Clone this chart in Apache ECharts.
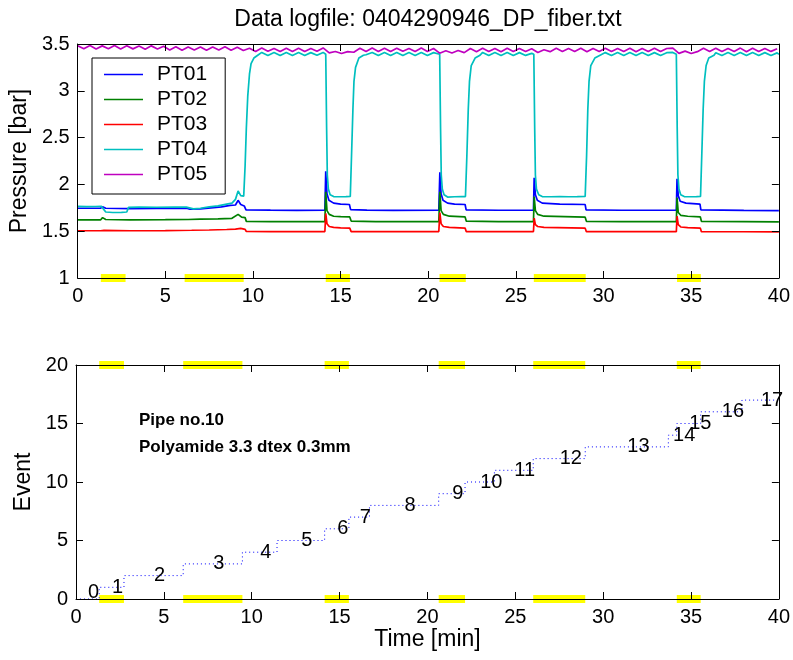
<!DOCTYPE html>
<html>
<head>
<meta charset="utf-8">
<title>Data logfile: 0404290946_DP_fiber.txt</title>
<script src="https://cdn.jsdelivr.net/npm/echarts@6/dist/echarts.min.js"></script>
<style>
  html, body { margin: 0; padding: 0; background: #ffffff; }
  #chart { width: 793px; height: 660px; }
</style>
</head>
<body>
<div id="chart"></div>
<script>
// ---- Axis ticks ----
const timeTicks = [0, 5, 10, 15, 20, 25, 30, 35, 40];
const pressureTicks = [1, 1.5, 2, 2.5, 3, 3.5];
const eventTicks = [0, 5, 10, 15, 20];

// ---- Pressure transmitters, [time (min), pressure (bar)] ----
const seriesNames = ['PT01', 'PT02', 'PT03', 'PT04', 'PT05'];

const pt01 = [
  [0, 1.745], [1.3, 1.745], [1.42, 1.76], [1.6, 1.745], [3, 1.742], [4.5, 1.744], [6.2, 1.745],
  [6.4, 1.735], [7.0, 1.738], [7.6, 1.75], [8.2, 1.76], [8.7, 1.775], [9.0, 1.78], [9.15, 1.83],
  [9.3, 1.785], [9.5, 1.77], [9.6, 1.728], [11, 1.725], [12.5, 1.723], [14.1, 1.725],
  [14.15, 2.14], [14.22, 1.9], [14.33, 1.83], [14.6, 1.80], [15.0, 1.79], [15.5, 1.785],
  [15.57, 1.73], [16.5, 1.725], [18, 1.723], [20.6, 1.725],
  [20.66, 2.13], [20.73, 1.9], [20.84, 1.83], [21.1, 1.80], [21.5, 1.79], [22.1, 1.785],
  [22.16, 1.728], [24, 1.724], [26.0, 1.726],
  [26.04, 2.07], [26.11, 1.89], [26.22, 1.83], [26.5, 1.80], [27.5, 1.79], [28.95, 1.785],
  [29.0, 1.728], [31, 1.724], [34.15, 1.725],
  [34.19, 2.06], [34.26, 1.88], [34.37, 1.82], [34.7, 1.80], [35.5, 1.79],
  [35.55, 1.728], [38, 1.722], [40, 1.72]
];

const pt02 = [
  [0, 1.62], [1.3, 1.62], [1.42, 1.645], [1.6, 1.625], [3, 1.622], [5, 1.623], [6.3, 1.625],
  [7.0, 1.628], [8.0, 1.632], [8.8, 1.638], [9.15, 1.68], [9.35, 1.65], [9.55, 1.645],
  [9.62, 1.605], [11, 1.603], [14.1, 1.603],
  [14.15, 1.92], [14.22, 1.72], [14.35, 1.68], [14.6, 1.66], [15.0, 1.655], [15.52, 1.652],
  [15.6, 1.608], [17, 1.603], [20.6, 1.603],
  [20.66, 1.92], [20.73, 1.72], [20.86, 1.68], [21.2, 1.66], [22.1, 1.652],
  [22.17, 1.607], [24, 1.603], [26.0, 1.603],
  [26.04, 1.87], [26.11, 1.72], [26.24, 1.68], [26.6, 1.66], [28.95, 1.65],
  [29.02, 1.606], [31, 1.603], [34.15, 1.603],
  [34.19, 1.86], [34.26, 1.70], [34.4, 1.67], [34.8, 1.66], [35.52, 1.652],
  [35.58, 1.606], [38, 1.603], [40, 1.60]
];

const pt03 = [
  [0, 1.505], [1.3, 1.505], [1.5, 1.508], [3, 1.505], [5, 1.507], [6.5, 1.51], [7.5, 1.513],
  [8.5, 1.518], [9.0, 1.522], [9.3, 1.53], [9.55, 1.52], [9.62, 1.497], [11, 1.496], [14.1, 1.496],
  [14.15, 1.69], [14.22, 1.58], [14.35, 1.55], [14.6, 1.54], [15.0, 1.536], [15.52, 1.533],
  [15.6, 1.495], [17, 1.496], [20.6, 1.496],
  [20.66, 1.70], [20.73, 1.58], [20.86, 1.55], [21.2, 1.54], [22.1, 1.533],
  [22.17, 1.495], [24, 1.496], [26.0, 1.496],
  [26.04, 1.64], [26.11, 1.57], [26.24, 1.55], [26.6, 1.54], [28.95, 1.532],
  [29.02, 1.495], [31, 1.495], [34.15, 1.495],
  [34.19, 1.66], [34.26, 1.57], [34.4, 1.545], [34.8, 1.538], [35.52, 1.533],
  [35.58, 1.494], [38, 1.494], [40, 1.493]
];

const pt04 = [
  [0, 1.765], [0.5, 1.762], [1.0, 1.764], [1.35, 1.765], [1.45, 1.75], [1.6, 1.705], [2.0, 1.70],
  [2.5, 1.702], [2.8, 1.705], [2.9, 1.755], [3.5, 1.757], [4.5, 1.756], [5.5, 1.758], [6.2, 1.757],
  [6.3, 1.74], [6.6, 1.738], [7.0, 1.745], [7.5, 1.76], [8.0, 1.77], [8.5, 1.79], [8.8, 1.80],
  [9.0, 1.84], [9.15, 1.93], [9.3, 1.88], [9.47, 1.875],
  [9.55, 2.2], [9.62, 2.6], [9.7, 2.94], [9.8, 3.18], [9.89, 3.29], [10.05, 3.35], [10.27, 3.38],
  [10.5, 3.41], [10.85, 3.378], [11.2, 3.41], [11.55, 3.376], [11.9, 3.41], [12.25, 3.378],
  [12.6, 3.409], [12.95, 3.377], [13.3, 3.408], [13.65, 3.379], [14.0, 3.41], [14.15, 3.39],
  [14.2, 2.6], [14.24, 2.1], [14.3, 1.95], [14.4, 1.89], [14.6, 1.87], [15.0, 1.868],
  [15.3, 1.87], [15.55, 1.872],
  [15.62, 2.3], [15.7, 2.8], [15.76, 3.1], [15.85, 3.25], [16.04, 3.35], [16.3, 3.38],
  [16.45, 3.385], [16.8, 3.41], [17.15, 3.377], [17.5, 3.409], [17.85, 3.378], [18.2, 3.41],
  [18.55, 3.376], [18.9, 3.409], [19.25, 3.378], [19.6, 3.41], [19.95, 3.377], [20.3, 3.408],
  [20.65, 3.39],
  [20.7, 2.6], [20.74, 2.1], [20.8, 1.95], [20.9, 1.89], [21.1, 1.865], [21.5, 1.868],
  [21.9, 1.87], [22.12, 1.87],
  [22.2, 2.3], [22.28, 2.8], [22.35, 3.1], [22.45, 3.27], [22.67, 3.35], [22.95, 3.38],
  [23.1, 3.41], [23.45, 3.377], [23.8, 3.409], [24.15, 3.378], [24.5, 3.41], [24.85, 3.376],
  [25.2, 3.408], [25.55, 3.378], [25.9, 3.40], [26.02, 3.39],
  [26.07, 2.6], [26.11, 2.1], [26.17, 1.95], [26.3, 1.89], [26.5, 1.87], [27.0, 1.868],
  [27.5, 1.869], [28.0, 1.868], [28.5, 1.87], [28.95, 1.872],
  [29.03, 2.3], [29.1, 2.8], [29.17, 3.1], [29.27, 3.27], [29.5, 3.35], [29.8, 3.38],
  [30.1, 3.408], [30.45, 3.377], [30.8, 3.41], [31.15, 3.378], [31.5, 3.409], [31.85, 3.376],
  [32.2, 3.41], [32.55, 3.378], [32.9, 3.408], [33.25, 3.377], [33.6, 3.407], [33.95, 3.41],
  [34.15, 3.39],
  [34.2, 2.6], [34.24, 2.1], [34.3, 1.95], [34.4, 1.89], [34.6, 1.87], [35.0, 1.868],
  [35.3, 1.869], [35.53, 1.871],
  [35.6, 2.3], [35.68, 2.8], [35.75, 3.1], [35.85, 3.27], [36.0, 3.35], [36.3, 3.38],
  [36.4, 3.407], [36.75, 3.377], [37.1, 3.41], [37.45, 3.378], [37.8, 3.409], [38.15, 3.376],
  [38.5, 3.41], [38.85, 3.378], [39.2, 3.408], [39.55, 3.377], [39.9, 3.405], [40, 3.39]
];

// PT05 logged at a fixed sample interval
const pt05Start = 0;
const pt05Step = 0.35;
const pt05 = [
  3.482, 3.450, 3.484, 3.447, 3.480, 3.449, 3.483, 3.446, 3.481, 3.448, 3.479, 3.445, 3.480, 3.447, 3.476,
  3.436, 3.470, 3.434, 3.468, 3.437, 3.469, 3.433, 3.467, 3.436, 3.470, 3.434, 3.466, 3.430,
  3.455, 3.420, 3.456, 3.422, 3.453, 3.419, 3.455, 3.421, 3.454, 3.420, 3.452, 3.423,
  3.458, 3.405, 3.420, 3.398, 3.418, 3.412,
  3.455, 3.420, 3.456, 3.421, 3.454, 3.419, 3.455, 3.422, 3.453, 3.420, 3.456, 3.421, 3.452,
  3.402, 3.428, 3.404, 3.430, 3.408,
  3.452, 3.418, 3.454, 3.420, 3.453, 3.417, 3.455, 3.419, 3.452, 3.420,
  3.450, 3.410, 3.438,
  3.418, 3.454, 3.419, 3.452, 3.421, 3.455, 3.418, 3.453, 3.420, 3.454, 3.419, 3.452, 3.421, 3.455, 3.418, 3.453, 3.420, 3.454, 3.419, 3.452,
  3.456, 3.400, 3.424, 3.398, 3.418,
  3.454, 3.420, 3.455, 3.419, 3.453, 3.421, 3.456, 3.418, 3.454, 3.420, 3.452, 3.421, 3.450
];

// ---- Event log: time (min) at which event n starts ----
const eventTimes = [0, 1.32, 2.73, 6.10, 9.47, 11.44, 14.15, 15.53, 16.7, 20.64,
                    22.14, 23.81, 26.02, 28.98, 33.71, 34.19, 35.55, 37.9];
const logEnd = 40;

// Periods marked in yellow (start, end) in minutes
const markedPeriods = [[1.32, 2.73], [6.10, 9.47], [14.15, 15.53], [20.64, 22.14], [26.02, 28.98], [34.19, 35.55]];

// Notes written inside the event plot
const noteLines = ['Pipe no.10', 'Polyamide 3.3 dtex 0.3mm'];
const titleText = 'Data logfile: 0404290946_DP_fiber.txt';

// ---- Styling ----
const FONT = "'Liberation Sans', Arial, Helvetica, sans-serif";
const colors = ['#0000ff', '#008000', '#ff0000', '#00bfbf', '#bf00bf'];
const YELLOW = '#ffff00';
const TICK_FONT = 20;
const NAME_FONT = 23;

const chart = echarts.init(document.getElementById('chart'), null, { renderer: 'canvas' });

const gridTop = { left: 76, top: 44, width: 704, height: 234 };
const gridBottom = { left: 76, top: 365, width: 704, height: 234 };

function valueAxis(gridIndex, position, min, max, interval, showLabel, extra) {
  return Object.assign({
    type: 'value',
    gridIndex: gridIndex,
    position: position,
    min: min,
    max: max,
    interval: interval,
    z: 10,
    axisLine: { show: true, onZero: false, lineStyle: { color: '#000', width: 1 } },
    axisTick: { show: true, inside: true, length: 7, lineStyle: { color: '#000', width: 1 } },
    axisLabel: {
      show: showLabel, color: '#000', fontFamily: FONT, fontSize: TICK_FONT, margin: 8
    },
    splitLine: { show: false }
  }, extra || {});
}

const nameStyle = { color: '#000', fontFamily: FONT, fontSize: NAME_FONT };

const pressureSeries = [pt01, pt02, pt03, pt04, pt05.map((v, i) => [pt05Start + i * pt05Step, v])];

const series = [];
pressureSeries.forEach((data, k) => {
  series.push({
    name: seriesNames[k],
    type: 'line',
    xAxisIndex: 0,
    yAxisIndex: 0,
    data: data,
    symbol: 'none',
    showSymbol: false,
    animation: false,
    lineStyle: { color: colors[k], width: 1.7 },
    itemStyle: { color: colors[k] },
    z: 3
  });
});

// Yellow period markers: bottom edge of pressure plot, top and bottom edges of event plot
const markerTargets = [
  { x: 0, y: 0, level: pressureTicks[0] },
  { x: 2, y: 2, level: eventTicks[0] },
  { x: 2, y: 2, level: eventTicks[eventTicks.length - 1] }
];
markerTargets.forEach(t => {
  markedPeriods.forEach(p => {
    series.push({
      type: 'line',
      xAxisIndex: t.x,
      yAxisIndex: t.y,
      data: [[p[0], t.level], [p[1], t.level]],
      symbol: 'none',
      animation: false,
      silent: true,
      clip: true,
      lineStyle: { color: YELLOW, width: 8, cap: 'butt' },
      z: 2
    });
  });
});

// Event staircase
const stairData = eventTimes.map((t, n) => [t, n]);
stairData.push([logEnd, eventTimes.length - 1]);
series.push({
  type: 'line',
  xAxisIndex: 2,
  yAxisIndex: 2,
  data: stairData,
  step: 'end',
  symbol: 'none',
  animation: false,
  lineStyle: { color: '#0000ff', width: 1, type: [1, 3] },
  z: 3
});

// Event numbers, placed at the middle of each step
const labelData = eventTimes.map((t, n) => {
  const next = n + 1 < eventTimes.length ? eventTimes[n + 1] : logEnd;
  const item = { value: [(t + next) / 2, n] };
  if (n === 0) item.label = { offset: [0, -7] };
  return item;
});
series.push({
  type: 'scatter',
  xAxisIndex: 2,
  yAxisIndex: 2,
  data: labelData,
  symbolSize: 1,
  itemStyle: { color: 'rgba(0,0,0,0)', opacity: 1 },
  animation: false,
  silent: true,
  clip: false,
  label: {
    show: true,
    position: 'right',
    distance: 0,
    color: '#000000',
    opacity: 1,
    fontFamily: FONT,
    fontSize: 20,
    formatter: p => String(p.data.value[1])
  },
  z: 4
});

const option = {
  backgroundColor: '#ffffff',
  animation: false,
  textStyle: { fontFamily: FONT },
  grid: [
    Object.assign({ show: false, containLabel: false }, gridTop),
    Object.assign({ show: false, containLabel: false }, gridBottom)
  ],
  legend: {
    data: seriesNames,
    orient: 'vertical',
    left: 92,
    top: 58,
    icon: 'rect',
    backgroundColor: '#ffffff',
    borderColor: '#000000',
    borderWidth: 1,
    borderRadius: 0,
    padding: [6, 18, 9, 12],
    itemWidth: 39,
    itemHeight: 1.6,
    itemGap: 4,
    selectedMode: false,
    textStyle: { color: '#000', fontFamily: FONT, fontSize: 21, padding: [0, 0, 0, 9] },
    z: 6
  },
  xAxis: [
    valueAxis(0, 'bottom', 0, 40, 5, true),
    valueAxis(0, 'top', 0, 40, 5, false),
    valueAxis(1, 'bottom', 0, 40, 5, true, {
      name: 'Time [min]', nameLocation: 'middle', nameGap: 29, nameTextStyle: nameStyle
    }),
    valueAxis(1, 'top', 0, 40, 5, false)
  ],
  yAxis: [
    valueAxis(0, 'left', 1, 3.5, 0.5, true, {
      name: 'Pressure [bar]', nameLocation: 'middle', nameGap: 46, nameRotate: 90, nameTextStyle: nameStyle
    }),
    valueAxis(0, 'right', 1, 3.5, 0.5, false),
    valueAxis(1, 'left', 0, 20, 5, true, {
      name: 'Event', nameLocation: 'middle', nameGap: 34, nameRotate: 90, nameTextStyle: nameStyle
    }),
    valueAxis(1, 'right', 0, 20, 5, false)
  ],
  graphic: [
    {
      type: 'text', x: 428, y: 20, z: 10,
      style: { text: titleText, fill: '#000', font: '23px ' + FONT, textAlign: 'center', textVerticalAlign: 'middle' }
    },
    {
      type: 'text', x: 139, y: 420, z: 10,
      style: { text: noteLines[0], fill: '#000', font: 'bold 17px ' + FONT, textAlign: 'left', textVerticalAlign: 'middle' }
    },
    {
      type: 'text', x: 139, y: 447, z: 10,
      style: { text: noteLines[1], fill: '#000', font: 'bold 17px ' + FONT, textAlign: 'left', textVerticalAlign: 'middle' }
    }
  ],
  series: series
};

chart.setOption(option);
</script>
</body>
</html>
